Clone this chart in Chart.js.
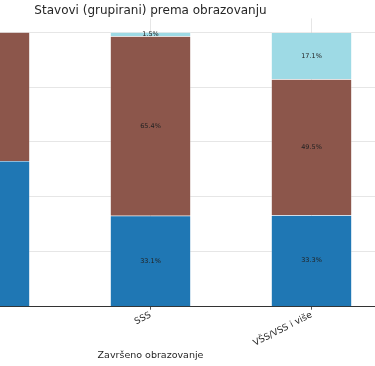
<!DOCTYPE html>
<html>
<head>
<meta charset="utf-8">
<script src="https://cdn.jsdelivr.net/npm/chart.js@4"></script>
<style>
  html, body { margin: 0; padding: 0; background: #fff; overflow: hidden; width: 375px; height: 366px; }
  #wrap { position: absolute; left: -91px; top: 0; width: 483px; height: 366px; }
</style>
</head>
<body>
<div id="wrap"><canvas id="grafik" width="483" height="366"></canvas></div>
<script>
// kategorije obrazovanja (prva je odrezana u originalu)
var kategorije = ['OŠ i manje', 'SSS', 'VŠS/VSS i više'];
// postotci po grupi stavova
var grupaPlava = [53.1, 33.1, 33.3];
var grupaSmeda = [46.9, 65.4, 49.5];
var grupaSvijetla = [0, 1.5, 17.1];
var yTicks = [0, 20, 40, 60, 80, 100];

var gridBoja = 'rgba(190,190,190,0.38)';

// ispis postotaka u sredini segmenata
var oznake = {
    id: 'oznake',
    afterDatasetsDraw: function(chart) {
        var ctx = chart.ctx;
        ctx.save();
        ctx.font = '6.5px "DejaVu Sans"';
        ctx.fillStyle = '#222';
        ctx.textAlign = 'center';
        ctx.textBaseline = 'middle';
        chart.data.datasets.forEach(function(ds, i) {
            chart.getDatasetMeta(i).data.forEach(function(bar, j) {
                var v = ds.data[j];
                if (!v) return;
                var p = bar.getProps(['x', 'y', 'base'], true);
                ctx.fillText(v.toFixed(1) + '%', p.x, (p.y + p.base) / 2);
            });
        });
        ctx.restore();
    }
};

var ctx = document.getElementById('grafik').getContext('2d');
var grafik = new Chart(ctx, {
    type: 'bar',
    data: {
        labels: kategorije,
        datasets: [
            { label: 'Plava', data: grupaPlava, backgroundColor: '#1f77b4', borderColor: 'rgba(255,255,255,0.6)', borderWidth: 0.5, barPercentage: 0.5, categoryPercentage: 1 },
            { label: 'Smeđa', data: grupaSmeda, backgroundColor: '#8c564b', borderColor: 'rgba(255,255,255,0.6)', borderWidth: 0.5, barPercentage: 0.5, categoryPercentage: 1 },
            { label: 'Svijetla', data: grupaSvijetla, backgroundColor: '#9edae5', borderColor: 'rgba(255,255,255,0.6)', borderWidth: 0.5, barPercentage: 0.5, categoryPercentage: 1 }
        ]
    },
    options: {
        responsive: false,
        animation: false,
        layout: { padding: { top: 0, bottom: 5, left: 0, right: 0 } },
        plugins: {
            legend: { display: false },
            tooltip: { enabled: false },
            title: {
                display: true,
                text: 'Stavovi (grupirani) prema obrazovanju',
                color: '#262626',
                font: { family: 'DejaVu Sans', size: 12, weight: 'normal' },
                padding: { top: 4, bottom: 0 }
            }
        },
        scales: {
            x: {
                stacked: true,
                z: 1,
                grid: { offset: false, color: gridBoja, tickLength: 3, tickColor: '#555' },
                border: { display: true, color: '#333', width: 1 },
                ticks: { color: '#262626', font: { family: 'DejaVu Sans', size: 9 }, minRotation: 27, maxRotation: 27, padding: 0 },
                title: { display: true, text: 'Završeno obrazovanje', color: '#262626', font: { family: 'DejaVu Sans', size: 9.5 }, padding: { top: 1, bottom: 0 } }
            },
            y: {
                stacked: true,
                z: 1,
                min: 0,
                max: 105,
                afterBuildTicks: function(scale) {
                    scale.ticks = yTicks.map(function(v) { return { value: v }; });
                },
                ticks: { display: false },
                grid: { color: gridBoja, drawTicks: false },
                border: { display: false }
            }
        }
    },
    plugins: [oznake]
});
</script>
</body>
</html>
